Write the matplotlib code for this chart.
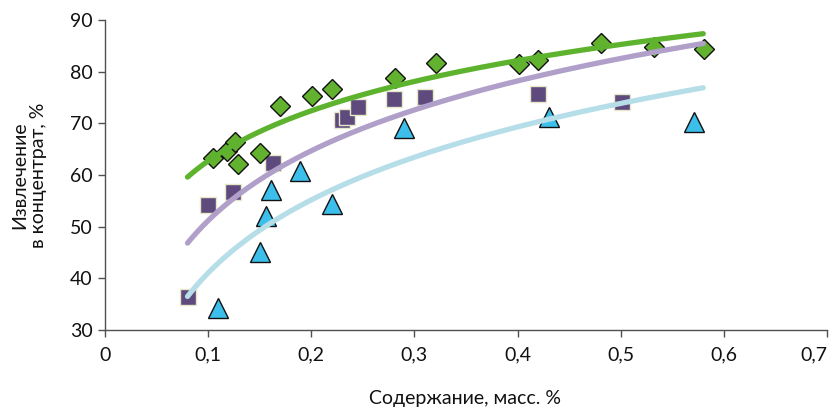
import numpy as np
import matplotlib
matplotlib.use("Agg")
import matplotlib.pyplot as plt

# Data
green_x = [0.105, 0.118, 0.126, 0.129, 0.150, 0.170, 0.201, 0.220, 0.281, 0.321, 0.401, 0.420, 0.481, 0.532, 0.581]
green_y = [63.3, 64.6, 66.4, 62.1, 64.3, 73.4, 75.3, 76.6, 78.8, 81.7, 81.5, 82.3, 85.5, 84.8, 84.4]

purple_x = [0.080, 0.100, 0.124, 0.163, 0.230, 0.235, 0.245, 0.280, 0.310, 0.420, 0.501]
purple_y = [36.4, 54.2, 56.7, 62.3, 70.6, 71.2, 73.2, 74.7, 75.1, 75.7, 74.1]

blue_x = [0.110, 0.150, 0.156, 0.161, 0.189, 0.220, 0.290, 0.430, 0.571]
blue_y = [34.3, 45.1, 52.1, 57.1, 60.8, 54.4, 69.1, 71.2, 70.3]

trend_range = [0.08, 0.58]

x_ticks = [0, 0.1, 0.2, 0.3, 0.4, 0.5, 0.6, 0.7]
x_tick_labels = ["0", "0,1", "0,2", "0,3", "0,4", "0,5", "0,6", "0,7"]
y_ticks = [30, 40, 50, 60, 70, 80, 90]

plt.rcParams['font.family'] = ['Lato', 'DejaVu Sans']

fig = plt.figure(figsize=(8.36, 4.11), dpi=100)
ax = fig.add_axes([105/836, 1-330/411, (827-105)/836, (330-20)/411])

ax.plot(blue_x, blue_y, linestyle='none', marker='^', ms=15, mfc='#3DBFEC', mec='#111111', mew=1.0, zorder=2)
ax.plot(purple_x, purple_y, linestyle='none', marker='s', ms=11, mfc='#5E4A7D', mec='#E6E8C8', mew=1.0, zorder=2)
ax.plot(green_x, green_y, linestyle='none', marker='D', ms=10.5, mfc='#63B22F', mec='#111111', mew=1.0, zorder=2)

xx = np.linspace(trend_range[0], trend_range[1], 200)
for xs, ys, col in [(green_x, green_y, '#5DB32E'), (purple_x, purple_y, '#AF9FC9'), (blue_x, blue_y, '#B6DEE8')]:
    b, a = np.polyfit(np.log(xs), ys, 1)
    ax.plot(xx, a + b*np.log(xx), color=col, lw=3.8, solid_capstyle='round', zorder=3)

ax.set_xlim(0, 0.7)
ax.set_ylim(30, 90)
ax.set_xticks(x_ticks)
ax.set_xticklabels(x_tick_labels)
ax.set_yticks(y_ticks)
for s in ['top', 'right']:
    ax.spines[s].set_visible(False)
for s in ['left', 'bottom']:
    ax.spines[s].set_color('#505050')
    ax.spines[s].set_linewidth(1.0)
ax.tick_params(axis='both', direction='out', length=5, width=1, color='#505050', labelsize=14, labelcolor='#111111')
ax.tick_params(axis='x', pad=7)
ax.tick_params(axis='y', pad=4)
ax.get_xticklabels()[-1].set_horizontalalignment('right')

fig.text((105 + 826) / 2 / 836, 1 - 398/411, "Содержание, масс. %", ha='center', va='center', fontsize=14, color='#111111')
fig.text(0.035, (1-330/411 + 1-20/411)/2, "Извлечение\nв концентрат, %", rotation=90, ha='center', va='center', fontsize=14, color='#111111', linespacing=1.1)

fig.savefig("out.png", dpi=100)
